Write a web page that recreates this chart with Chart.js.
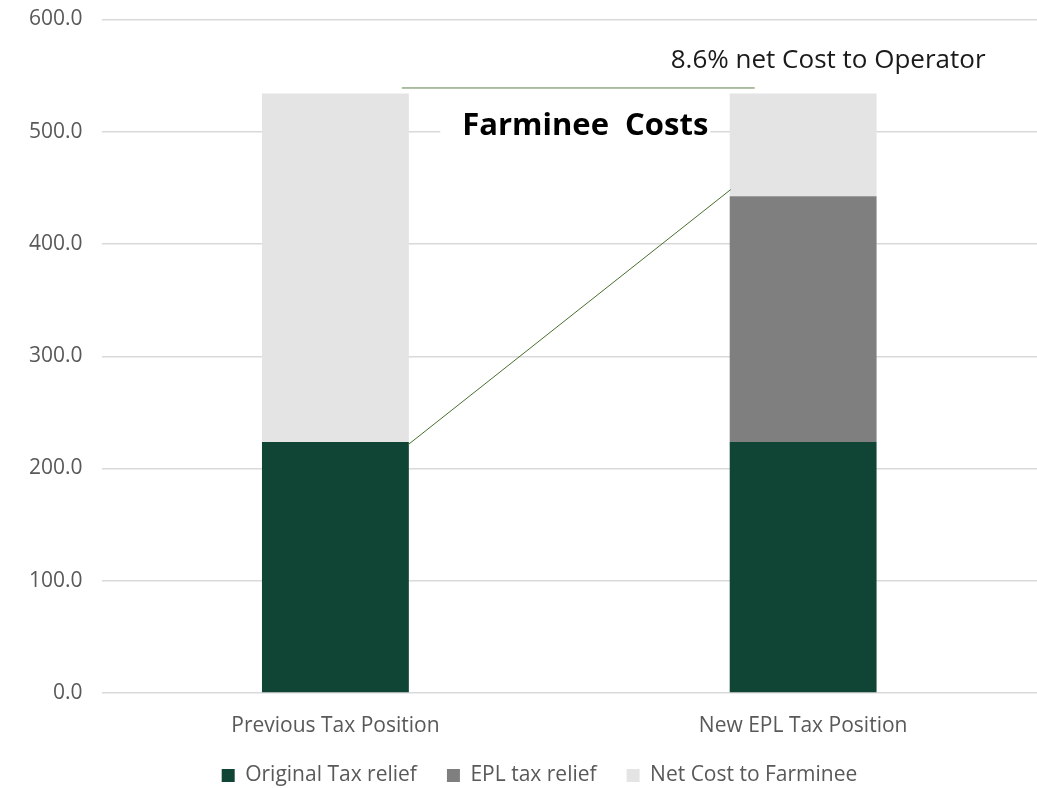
<!DOCTYPE html>
<html>
<head>
<meta charset="utf-8">
<script src="https://cdn.jsdelivr.net/npm/chart.js@4"></script>
<style>
	html, body { margin: 0; padding: 0; background: #fff; overflow: hidden; }
	#wrap { width: 1037px; height: 788px; position: relative; }
</style>
</head>
<body>
<div id="wrap"><canvas id="chart"></canvas></div>
<script>
// chart data
const categories = ['Previous Tax Position', 'New EPL Tax Position'];
const originalTaxRelief = [223.7, 223.7];
const eplTaxRelief = [0, 218.8];
const netCostToFarminee = [310.3, 91.5];
const yTicks = [0, 100, 200, 300, 400, 500, 600];

const noteText = '8.6% net Cost to Operator';
const titleText = 'Farminee  Costs';

// draw the connector lines and the two text notes over the bars
let annotations = {
	id: 'farmineeAnnotations',
	afterDatasetsDraw (chart) {
		let { ctx, scales: { y } } = chart;
		let meta = chart.getDatasetMeta(0);
		let prevBar = meta.data[0];
		let newBar = meta.data[1];
		let half = prevBar.width / 2;

		ctx.save();
		ctx.strokeStyle = '#456f2c';
		ctx.lineWidth = 1;

		// slanted line from old relief to new relief top
		let epl = originalTaxRelief[1] + eplTaxRelief[1];
		ctx.beginPath();
		ctx.moveTo(prevBar.x + half - 1, y.getPixelForValue(originalTaxRelief[0]) + 3);
		ctx.lineTo(newBar.x - half + 1, y.getPixelForValue(epl + 6));
		ctx.stroke();

		// horizontal bracket line
		ctx.strokeStyle = '#5b7f45';
		ctx.beginPath();
		ctx.moveTo(prevBar.x + half - 7, y.getPixelForValue(539));
		ctx.lineTo(newBar.x - half + 25, y.getPixelForValue(539));
		ctx.stroke();

		// white box behind the title, then the title
		ctx.font = 'bold 31px "Open Sans", sans-serif';
		ctx.textBaseline = 'middle';
		ctx.textAlign = 'center';
		let tx = (prevBar.x + newBar.x) / 2 + 16;
		let ty = y.getPixelForValue(505);
		let tw = ctx.measureText(titleText).width;
		ctx.fillStyle = '#fff';
		ctx.fillRect(tx - tw / 2 - 22, ty - 18, tw + 24, 36);
		ctx.fillStyle = '#000';
		ctx.fillText(titleText, tx, ty);

		ctx.font = '26px "Open Sans", sans-serif';
		ctx.fillStyle = '#1a1a1a';
		ctx.fillText(noteText, newBar.x + 25, y.getPixelForValue(563));
		ctx.restore();
	},
};

// legend sits a little right of the canvas centre in the original
let legendNudge = {
	id: 'legendNudge',
	afterLayout (chart) {
		chart.legend.left += 16;
		chart.legend.right += 16;
	},
};

let chartEl = document.getElementById('chart');

new Chart(chartEl, {
	type: 'bar',
	data: {
		labels: categories,
		datasets: [
			{ label: 'Original Tax relief', data: originalTaxRelief, backgroundColor: '#104536' },
			{ label: 'EPL tax relief', data: eplTaxRelief, backgroundColor: '#7f7f7f' },
			{ label: 'Net Cost to Farminee', data: netCostToFarminee, backgroundColor: '#e4e4e4' },
		],
	},
	options: {
		responsive: true,
		maintainAspectRatio: false,
		animation: false,
		layout: { padding: { left: 10, right: 0, top: 0, bottom: -8 } },
		datasets: {
			bar: { barPercentage: 1, categoryPercentage: 0.314, borderWidth: 0 },
		},
		plugins: {
			legend: {
				position: 'bottom',
				labels: {
					boxWidth: 13,
					boxHeight: 13,
					padding: 30,
					color: '#595959',
					font: { size: 21, family: '"Open Sans", sans-serif' },
				},
			},
			tooltip: { enabled: false },
		},
		scales: {
			x: {
				stacked: true,
				grid: { display: false, drawTicks: false },
				border: { display: false },
				afterFit: (axis) => { axis.height = 42; },
				ticks: {
					color: '#595959',
					padding: 25,
					font: { size: 21, lineHeight: 0.8, family: '"Open Sans", sans-serif' },
				},
			},
			y: {
				stacked: true,
				min: 0,
				max: 600,
				afterBuildTicks: (axis) => {
					axis.ticks = yTicks.map(v => ({ value: v }));
				},
				afterFit: (axis) => { axis.paddingTop = 19.5; },
				grid: { color: '#d9d9d9', lineWidth: 1.5, drawTicks: false },
				border: { display: false },
				ticks: {
					color: '#595959',
					padding: 19,
					font: { size: 21, family: '"Open Sans", sans-serif' },
					callback: (v) => v.toFixed(1),
				},
			},
		},
	},
	plugins: [ annotations, legendNudge ],
});
</script>
</body>
</html>
